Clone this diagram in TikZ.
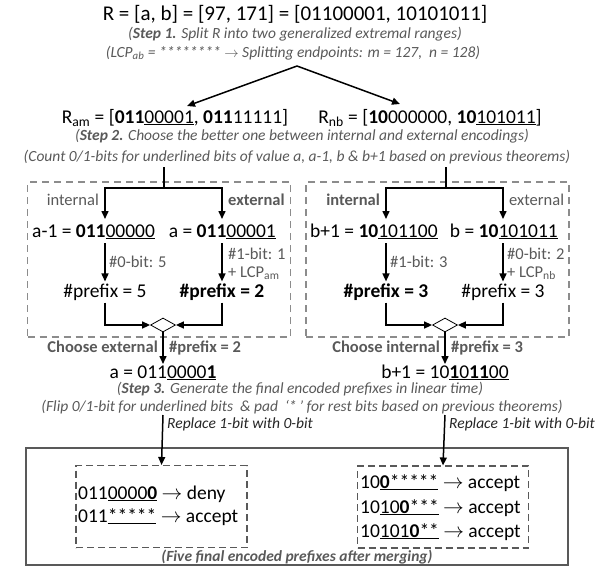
\documentclass[tikz,border=0pt]{standalone}
\usepackage{fontspec}
\setmainfont{Carlito}
\usetikzlibrary{arrows.meta,positioning,shapes.geometric}
\definecolor{notegray}{HTML}{595959}
\definecolor{boxgray}{HTML}{8C8C8C}

\begin{document}
\begin{tikzpicture}[x=1pt, y=-1pt, >={Triangle[length=8pt,width=7pt]}]
    \tikzset{big/.style={font=\fontsize{21}{24}\selectfont, anchor=base, inner sep=0pt},
        txt/.style={font=\fontsize{19.5}{22}\selectfont, anchor=base, inner sep=0pt},
        note/.style={font=\fontsize{15.5}{18}\selectfont\itshape, text=notegray, anchor=base, inner sep=0pt},
        lbl/.style={font=\fontsize{16.5}{19}\selectfont, text=notegray, inner sep=0pt},
        flow/.style={->, line width=1.5pt},
        dbox/.style={draw=boxgray, dash pattern=on 7pt off 5pt, line width=1.1pt, minimum width=263pt, minimum height=155pt},
        ibox/.style={draw=notegray, dash pattern=on 7pt off 4pt, line width=1.1pt, minimum width=171pt, minimum height=82pt}}
    \useasboundingbox (0,0) rectangle (603,571);
    % step 1
    \node[big] (title) at (295,20) {R = [a, b] = [97, 171] = [01100001, 10101011]};
    \node[note] (s1) at (295,38) {(\textbf{Step 1.} Split R into two generalized extremal ranges)};
    \node[note] (lcp) at (293,57) {(LCP\textsubscript{ab} = ******** $\rightarrow$ Splitting endpoints: m = 127,\ \ n = 128)};
    \coordinate (split) at (297,66);
    \coordinate (tipam) at (187,106);
    \coordinate (tipnb) at (400,104);
    \draw[flow] (split) -- (tipam);
    \draw[flow] (split) -- (tipnb);
    \node[txt] (ram) at (175,123) {R\textsubscript{am} = [\textbf{011}\underline{00001}, \textbf{011}11111]};
    \node[txt] (rnb) at (430,123) {R\textsubscript{nb} = [\textbf{10}000000, \textbf{10}\underline{101011}]};
    % step 2
    \node[note] (s2) at (302,140) {(\textbf{Step 2.} Choose the better one between internal and external encodings)};
    \node[note] (cnt) at (297,161) {(Count 0/1-bits for underlined bits of value a, a-1, b \& b+1 based on previous theorems)};
    \node[dbox] (boxam) at (159,259.5) {};
    \node[dbox] (boxnb) at (437.5,259.5) {};
    \foreach \s/\xm/\xl/\xr in {am/164/105/222, nb/446/386/503} {
        \coordinate (top\s) at (\xm,167);
        \coordinate (j\s) at (\xm,188);
        \coordinate (in\s) at (\xl,219);
        \coordinate (ex\s) at (\xr,219);
        \coordinate (bin\s) at (\xl,243);
        \coordinate (bex\s) at (\xr,243);
        \draw[line width=1.5pt] (top\s) -- (j\s);
        \draw[flow] (j\s) -| (in\s);
        \draw[flow] (j\s) -| (ex\s);
    }
    \node[lbl, anchor=base east] (intam) at (99,205) {internal};
    \node[lbl, anchor=base west] (extam) at (228,205) {\textbf{external}};
    \node[lbl, anchor=base east] (intnb) at (380,205) {\textbf{internal}};
    \node[lbl, anchor=base west] (extnb) at (509,205) {external};
    \node[txt, anchor=base west] (am1) at (32,237) {a-1 = \textbf{011}\underline{00000}};
    \node[txt, anchor=base east] (am2) at (276,237) {a = \textbf{011}\underline{00001}};
    \node[txt, anchor=base west] (nb1) at (310,237) {b+1 = \textbf{10}\underline{101100}};
    \node[txt, anchor=base east] (nb2) at (558,237) {b = \textbf{10}\underline{101011}};
    \node[txt, anchor=center, inner sep=2pt] (pam1) at (105,292) {\#prefix = 5};
    \node[txt, anchor=center, inner sep=2pt] (pam2) at (222,292) {\textbf{\#prefix = 2}};
    \node[txt, anchor=center, inner sep=2pt] (pnb1) at (386,292) {\textbf{\#prefix = 3}};
    \node[txt, anchor=center, inner sep=2pt] (pnb2) at (503,292) {\#prefix = 3};
    \draw[flow] (binam) -- (pam1);
    \draw[flow] (bexam) -- (pam2);
    \draw[flow] (binnb) -- (pnb1);
    \draw[flow] (bexnb) -- (pnb2);
    \node[lbl, anchor=base west] at (109,267) {\#0-bit: 5};
    \node[lbl, anchor=base west] at (228,259) {\#1-bit: 1};
    \node[lbl, anchor=base west] at (228,277) {+ LCP\textsubscript{am}};
    \node[lbl, anchor=base west] at (390,267) {\#1-bit: 3};
    \node[lbl, anchor=base west] at (507,259) {\#0-bit: 2};
    \node[lbl, anchor=base west] at (507,277) {+ LCP\textsubscript{nb}};
    \node[diamond, draw, line width=0.8pt, aspect=1.8, minimum width=25pt, minimum height=14pt, inner sep=0pt] (dam) at (163,325) {};
    \node[diamond, draw, line width=0.8pt, aspect=1.8, minimum width=25pt, minimum height=14pt, inner sep=0pt] (dnb) at (445,325) {};
    \draw[flow] (pam1) |- (dam.west);
    \draw[flow] (pam2) |- (dam.east);
    \draw[flow] (pnb1) |- (dnb.west);
    \draw[flow] (pnb2) |- (dnb.east);
    \coordinate (choam) at (163,364);
    \coordinate (chonb) at (445,364);
    \draw[flow] (dam.south) -- (choam);
    \draw[flow] (dnb.south) -- (chonb);
    \node[lbl, anchor=base east] at (158,352) {\textbf{Choose external}};
    \node[lbl, anchor=base west] at (169,352) {\textbf{\#prefix = 2}};
    \node[lbl, anchor=base east] at (440,352) {\textbf{Choose internal}};
    \node[lbl, anchor=base west] at (451,352) {\textbf{\#prefix = 3}};
    \node[txt] (ram2) at (163,378) {a = 011\underline{0000\textbf{1}}};
    \node[txt] (rnb2) at (445,378) {b+1 = 10\underline{\textbf{1}0\textbf{11}00}};
    % step 3
    \node[note] (s3) at (300,393) {(\textbf{Step 3.} Generate the final encoded prefixes in linear time)};
    \node[note] (flip) at (302,411) {(Flip 0/1-bit for underlined bits\ \ \& pad\ \ ‘*\,’ for rest bits based on previous theorems)};
    \node[draw=notegray, line width=1.1pt, minimum width=542pt, minimum height=117pt] (final) at (297,506.5) {};
    \node[ibox] (fam) at (161.5,506.5) {};
    \node[ibox] (fnb) at (443,507) {};
    \coordinate (rpam) at (163,415);
    \coordinate (rpnb) at (445,415);
    \draw[flow] (rpam) -- (fam.north);
    \draw[flow] (rpnb) -- (fnb.north);
    \node[lbl, anchor=base west, text=black!85, font=\fontsize{15.5}{18}\selectfont\itshape] at (167,428) {Replace 1-bit with 0-bit};
    \node[lbl, anchor=base west, text=black!85, font=\fontsize{15.5}{18}\selectfont\itshape] at (449,428) {Replace 1-bit with 0-bit};
    \node[txt, anchor=base west] (pr1) at (78,499) {011\underline{0000\textbf{0}} $\rightarrow$ deny};
    \node[txt, anchor=base west] (pr2) at (78,522) {011\underline{*****} $\rightarrow$ accept};
    \node[txt, anchor=base west] (pr3) at (360,488) {10\underline{\textbf{0}*****} $\rightarrow$ accept};
    \node[txt, anchor=base west] (pr4) at (360,513) {10\underline{10\textbf{0}***} $\rightarrow$ accept};
    \node[txt, anchor=base west] (pr5) at (360,537) {10\underline{101\textbf{0}**} $\rightarrow$ accept};
    \node[note] (fin) at (297,561) {\textbf{(Five final encoded prefixes after merging)}};
\end{tikzpicture}
\end{document}
